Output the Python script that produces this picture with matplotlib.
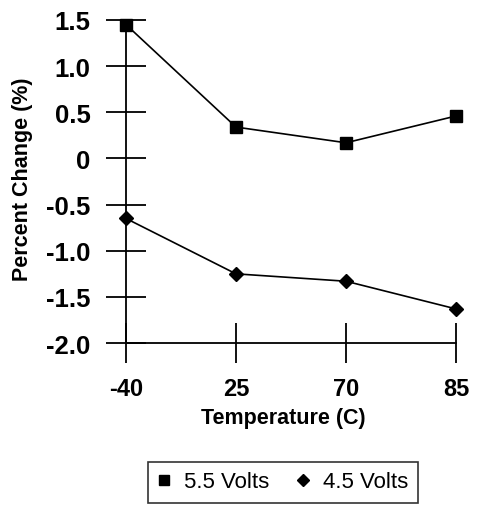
import matplotlib
matplotlib.use("Agg")
import matplotlib.pyplot as plt

temperatures = ["-40", "25", "70", "85"]
volts_55 = [1.45, 0.34, 0.17, 0.46]
volts_45 = [-0.65, -1.25, -1.33, -1.63]
y_ticks = [-2.0, -1.5, -1.0, -0.5, 0, 0.5, 1.0, 1.5]
y_tick_labels = ["-2.0", "-1.5", "-1.0", "-0.5", "0", "0.5", "1.0", "1.5"]

plt.rcParams["font.family"] = ["Liberation Sans", "DejaVu Sans"]

fig = plt.figure(figsize=(4.8, 5.06), dpi=100)
ax = fig.add_axes([0.2625, 0.320, 0.6875, 0.6385])

x = list(range(len(temperatures)))
ax.plot(x, volts_55, color="black", lw=1.2, marker="s", markersize=8,
        clip_on=False, label="5.5 Volts", zorder=3)
ax.plot(x, volts_45, color="black", lw=1.2, marker="D", markersize=7.5,
        clip_on=False, label="4.5 Volts", zorder=3)

ax.set_xlim(0, 3)
ax.set_ylim(-2.0, 1.5)
ax.set_xticks(x)
ax.set_xticklabels(temperatures, fontsize=17, fontweight="bold")
ax.set_yticks(y_ticks)
ax.set_yticklabels(y_tick_labels, fontsize=18.5, fontweight="bold")

for side in ("top", "right"):
    ax.spines[side].set_visible(False)
for side in ("left", "bottom"):
    ax.spines[side].set_linewidth(1.3)
ax.tick_params(axis="both", direction="inout", length=29, width=1.3)
ax.tick_params(axis="y", pad=11)
ax.tick_params(axis="x", pad=10)

fig.text(283 / 480, 1 - 419 / 506, "Temperature (C)", ha="center", va="center",
         fontsize=15.5, fontweight="bold")
fig.text(23 / 480, 1 - 179 / 506, "Percent Change (%)", ha="center", va="center",
         rotation=90, fontsize=15.5, fontweight="bold")

leg = fig.legend(loc="center", bbox_to_anchor=(283 / 480, 1 - 483 / 506), ncol=2,
                 fontsize=16, frameon=True, fancybox=False, handlelength=0.6,
                 handletextpad=0.6, columnspacing=1.2, borderpad=0.45,
                 markerscale=0.85)
for h in leg.legend_handles:
    h.set_linestyle("none")
leg.get_frame().set_edgecolor("black")
leg.get_frame().set_linewidth(1.2)

fig.savefig("out.png", dpi=100)
